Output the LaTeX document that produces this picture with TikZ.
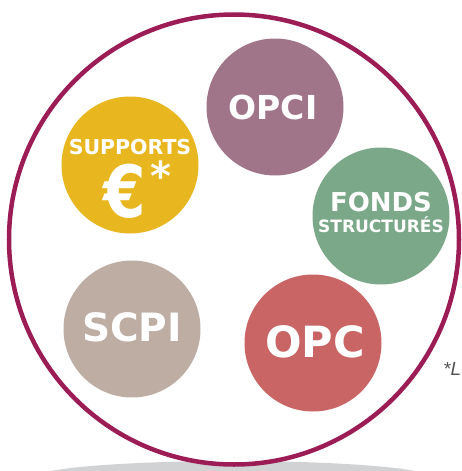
\documentclass[tikz,border=0pt]{standalone}
\usepackage{fontspec}
\setmainfont{DejaVu Sans}
\newfontfamily\notefont{Liberation Sans}
\definecolor{ring}{HTML}{9C1C56}
\definecolor{cOPCI}{HTML}{A07489}
\definecolor{cSUP}{HTML}{E8B720}
\definecolor{cFONDS}{HTML}{7BA888}
\definecolor{cSCPI}{HTML}{BEADA3}
\definecolor{cOPC}{HTML}{C96565}
\definecolor{shadowgray}{HTML}{D1D2D4}
\definecolor{notegray}{HTML}{555555}
\tikzset{
  bubble/.style={circle, minimum size=137pt, inner sep=0pt, draw=none},
  lbl/.style={text=white, font=\bfseries, inner sep=0pt, anchor=center},
}
\begin{document}
\begin{tikzpicture}[x=1pt,y=-1pt]
\useasboundingbox (0,0) rectangle (461,471);
% shadow
\fill[shadowgray] (233,478) ellipse [x radius=200, y radius=17];
% big ring
\node[circle, draw=ring, line width=4.5pt, fill=white, minimum size=450pt, inner sep=0pt] (ring) at (234,239.5) {};
% bubbles
\node[bubble, fill=cOPCI] (opci) at (275,107) {};
\node[bubble, fill=cSUP] (sup) at (130,165) {};
\node[bubble, fill=cFONDS] (fonds) at (381,216) {};
\node[bubble, fill=cSCPI] (scpi) at (132,329) {};
\node[bubble, fill=cOPC] (opc) at (313,343) {};
% labels
\node[lbl, font=\bfseries\fontsize{33}{33}\selectfont] (topci) at (273,107) {OPCI};
\node[lbl, font=\bfseries\fontsize{20.5}{20.5}\selectfont] (tsup) at (130,147) {SUPPORTS};
\node[lbl, font=\bfseries\fontsize{72}{72}\selectfont, xscale=0.85] (teuro) at (125,191) {€};
\node[lbl, font=\bfseries\fontsize{40}{40}\selectfont] (tast) at (161,176) {*};
\node[lbl, font=\bfseries\fontsize{26}{26}\selectfont] (tfonds) at (381,202) {FONDS};
\node[lbl, font=\bfseries\fontsize{17}{17}\selectfont] (tstruct) at (381,225) {STRUCTURÉS};
\node[lbl, font=\bfseries\fontsize{39}{39}\selectfont] (tscpi) at (132,327) {SCPI};
\node[lbl, font=\bfseries\fontsize{43}{43}\selectfont] (topc) at (315,342) {OPC};
% note
\node[anchor=base west, inner sep=0pt, text=notegray, font=\notefont\itshape\fontsize{19}{19}\selectfont] (note) at (443,375) {*L};
\end{tikzpicture}
\end{document}
